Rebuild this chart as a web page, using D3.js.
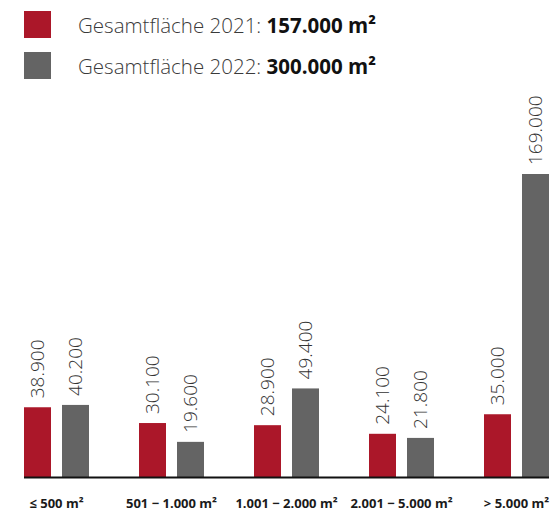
<!DOCTYPE html>
<html><head><meta charset="utf-8">
<script src="https://cdn.jsdelivr.net/npm/d3@7"></script>
<style>
html,body{margin:0;padding:0;background:#fff;}
svg{display:block;}
</style></head>
<body>
<svg id="chart" width="557" height="516"></svg>
<script>
const categories = ["≤ 500 m²", "501 − 1.000 m²", "1.001 − 2.000 m²", "2.001 − 5.000 m²", "> 5.000 m²"];
const seriesNames = ["2021", "2022"];
const values2021 = [38900, 30100, 28900, 24100, 35000];
const values2022 = [40200, 19600, 49400, 21800, 169000];
const legendLabels = ["Gesamtfläche 2021: ", "Gesamtfläche 2022: "];
const legendTotals = ["157.000 m²", "300.000 m²"];
const colors = ["#AB1729", "#646464"];

const svg = d3.select("#chart");
const fontFam = "'Open Sans', 'Noto Sans', sans-serif";

const x0 = d3.scaleBand().domain(categories).range([24, 549]).paddingInner(50/115).paddingOuter(0);
const x1 = d3.scaleBand().domain(seriesNames).range([0, x0.bandwidth()]).paddingInner(11/38).paddingOuter(0);
const y = d3.scaleLinear().domain([0, 169000]).range([477, 174]);
const color = d3.scaleOrdinal().domain(seriesNames).range(colors);
const fmt = d3.formatLocale({decimal: ",", thousands: ".", grouping: [3], currency: ["", "€"]}).format(",.0f");

const data = categories.map((c, i) => ({cat: c, vals: [
  {s: "2021", v: values2021[i]}, {s: "2022", v: values2022[i]}]}));

const g = svg.selectAll("g.grp").data(data).join("g").attr("class", "grp")
  .attr("transform", d => `translate(${x0(d.cat)},0)`);

g.selectAll("rect").data(d => d.vals).join("rect")
  .attr("x", d => x1(d.s)).attr("width", x1.bandwidth())
  .attr("y", d => y(d.v)).attr("height", d => y(0) - y(d.v))
  .attr("fill", d => color(d.s));

g.selectAll("text.val").data(d => d.vals).join("text").attr("class", "val")
  .attr("transform", d => `translate(${x1(d.s) + x1.bandwidth()/2},${y(d.v) - 9}) rotate(-90)`)
  .attr("dy", "0.36em")
  .attr("text-anchor", "start")
  .attr("font-family", fontFam).attr("font-weight", 300).attr("font-size", 19)
  .attr("fill", "#333")
  .text(d => fmt(d.v));

// baseline axis
const xAxis = d3.axisBottom(x0).tickSize(0).tickPadding(22);
const ax = svg.append("g").attr("transform", `translate(0,${y(0)})`).call(xAxis);
ax.select(".domain").attr("d", `M24,0.5H549`).attr("stroke", "#111").attr("stroke-width", 2);
ax.selectAll(".tick text").attr("font-family", fontFam).attr("font-weight", 700)
  .attr("font-size", 13).attr("fill", "#1a1a1a");

// legend
const lg = svg.selectAll("g.leg").data(seriesNames).join("g").attr("class", "leg")
  .attr("transform", (d, i) => `translate(24,${11 + i * 41})`);
lg.append("rect").attr("width", 27).attr("height", 27).attr("fill", d => color(d));
const lt = lg.append("text").attr("x", 54).attr("y", 22)
  .attr("font-family", fontFam).attr("font-size", 20.5).attr("fill", "#3a3a3a");
lt.append("tspan").attr("font-weight", 300).text((d, i) => legendLabels[i]);
lt.append("tspan").attr("font-weight", 700).attr("fill", "#111").text((d, i) => legendTotals[i]);
</script>
</body></html>
